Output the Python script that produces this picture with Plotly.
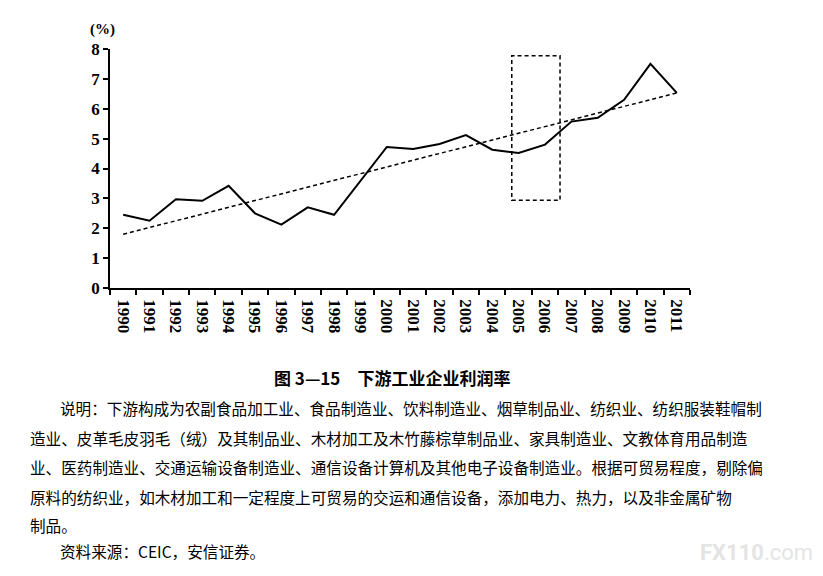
import plotly.graph_objects as go

years = [str(y) for y in range(1990, 2012)]
profit_rate = [2.45, 2.25, 2.97, 2.92, 3.42, 2.5, 2.12, 2.7, 2.45, 3.6, 4.72,
               4.65, 4.82, 5.12, 4.63, 4.52, 4.8, 5.57, 5.7, 6.3, 7.5, 6.53]
trend_years = ["1990", "2011"]
trend_values = [1.8, 6.53]
# dashed box around 2005-2006 (category index, value)
box_x = [14.74, 16.57]
box_y = [2.94, 7.77]

title = "图 3—15　下游工业企业利润率"
note_lines = [
    "说明：下游构成为农副食品加工业、食品制造业、饮料制造业、烟草制品业、纺织业、纺织服装鞋帽制",
    "造业、皮革毛皮羽毛（绒）及其制品业、木材加工及木竹藤棕草制品业、家具制造业、文教体育用品制造",
    "业、医药制造业、交通运输设备制造业、通信设备计算机及其他电子设备制造业。根据可贸易程度，剔除偏",
    "原料的纺织业，如木材加工和一定程度上可贸易的交运和通信设备，添加电力、热力，以及非金属矿物",
    "制品。",
]
source = "资料来源：CEIC，安信证券。"

serif = "Liberation Serif, Times New Roman, serif"
cjk = "Noto Sans CJK SC"
OFF = 8  # page body margin

fig = go.Figure()
fig.add_trace(go.Scatter(x=years, y=profit_rate, mode="lines",
                         line=dict(color="black", width=2),
                         showlegend=False))
fig.add_trace(go.Scatter(x=trend_years, y=trend_values, mode="lines",
                         line=dict(color="black", width=1.5, dash="4px,3px"),
                         showlegend=False))

fig.add_shape(type="rect", xref="x", yref="y",
              x0=box_x[0], x1=box_x[1], y0=box_y[0], y1=box_y[1],
              line=dict(color="black", width=1.5, dash="4px,3px"))

fig.update_xaxes(type="category", categoryorder="array", categoryarray=years,
                 range=[-0.5, 21.5], tickson="boundaries",
                 ticks="outside", ticklen=5, tickcolor="black", tickwidth=1.5,
                 showline=True, linecolor="black", linewidth=1.5,
                 showgrid=False, tickangle=90, ticklabelstandoff=6,
                 tickfont=dict(family=serif, size=17, color="black", weight="bold"))
fig.update_yaxes(range=[0, 8], dtick=1, ticks="outside", ticklen=5,
                 tickcolor="black", tickwidth=1.5,
                 showline=True, linecolor="black", linewidth=1.5,
                 showgrid=False, zeroline=False,
                 tickfont=dict(family=serif, size=17, color="black", weight="bold"))

annotations = [
    dict(text="<b>(%)</b>", x=88, y=30, xanchor="left", yanchor="middle",
         font=dict(family=serif, size=15, color="black")),
    dict(text="<b>" + title + "</b>", x=392, y=377, xanchor="center", yanchor="middle",
         font=dict(family=cjk, size=17, color="black")),
]
line_y = [408, 438, 467, 497, 525]
for i, t in enumerate(note_lines):
    annotations.append(dict(text=t, x=58 if i == 0 else 28, y=line_y[i],
                            xanchor="left", yanchor="middle",
                            font=dict(family=cjk, size=15.6, color="black")))
annotations.append(dict(text=source, x=58, y=551, xanchor="left", yanchor="middle",
                        font=dict(family=cjk, size=15.6, color="black")))
annotations.append(dict(text="<b>FX110</b>.com", x=815, y=552, xanchor="right",
                        yanchor="middle",
                        font=dict(family="Roboto", size=22, color="#e4e4e4")))

for a in annotations:
    a.update(xref="paper", yref="paper", showarrow=False)
    # convert pixel positions into paper coordinates
    a["x"] = (a["x"] - 110) / (690 - 110)
    a["y"] = (288 - a["y"]) / (288 - 49)

fig.update_layout(width=823, height=576, plot_bgcolor="white", paper_bgcolor="white",
                  margin=dict(l=110 - OFF, r=133 + OFF, t=49 - OFF, b=288 + OFF),
                  annotations=annotations)

fig.write_html("out.html")
